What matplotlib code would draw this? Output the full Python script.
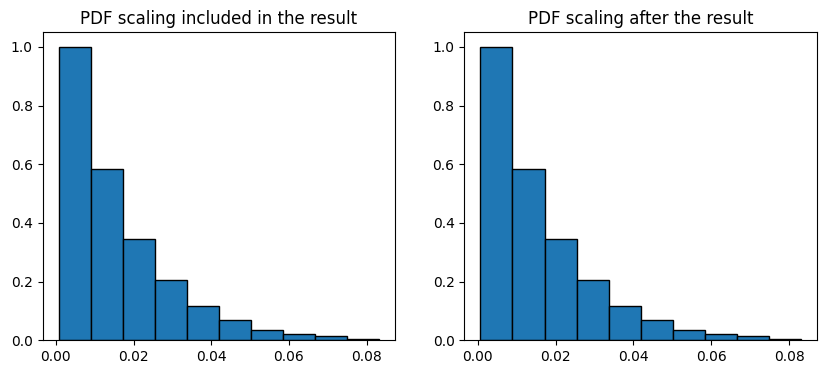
import numpy as np
import matplotlib
matplotlib.use("Agg")
import matplotlib.pyplot as plt

bin_start = 0.0007
bin_end = 0.0831
n_bins = 10
heights = [1.0, 0.584, 0.345, 0.205, 0.117, 0.068, 0.034, 0.0205, 0.0137, 0.0034]
titles = ["PDF scaling included in the result", "PDF scaling after the result"]

edges = np.linspace(bin_start, bin_end, n_bins + 1)
centers = (edges[:-1] + edges[1:]) / 2

fig = plt.figure(figsize=(8.26, 3.74), dpi=100)
positions = [[42.5 / 826, 33.7 / 374, 352.2 / 826, 308 / 374],
             [464.3 / 826, 33.7 / 374, 353 / 826, 308 / 374]]
for pos, title in zip(positions, titles):
    ax = fig.add_axes(pos)
    ax.hist(centers, bins=edges, weights=heights, color="#1f77b4", edgecolor="black", linewidth=1.0)
    ax.set_title(title, fontsize=12)

fig.savefig("out.png", dpi=100)
